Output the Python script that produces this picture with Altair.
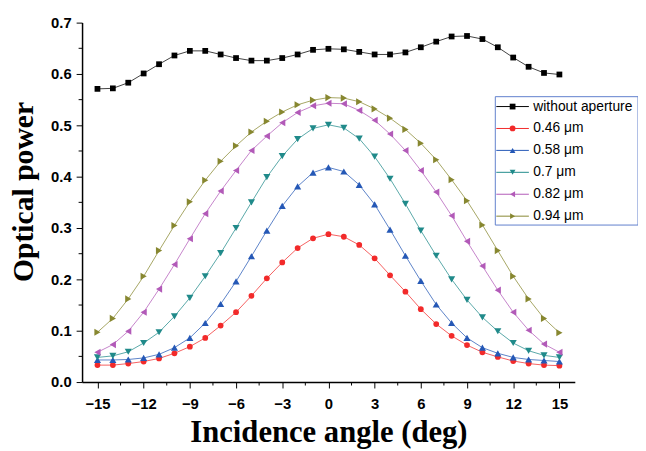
import altair as alt
import pandas as pd

angles = list(range(-15, 16))

series_names = ["without aperture", "0.46 μm", "0.58 μm", "0.7 μm", "0.82 μm", "0.94 μm"]

without_aperture = [0.571, 0.572, 0.583, 0.601, 0.619, 0.636, 0.645, 0.645, 0.638, 0.631,
                    0.626, 0.626, 0.631, 0.638, 0.647, 0.649, 0.648, 0.643, 0.638, 0.638,
                    0.642, 0.652, 0.663, 0.673, 0.674, 0.668, 0.652, 0.632, 0.614, 0.602, 0.599]
ap_046 = [0.033, 0.033, 0.036, 0.040, 0.046, 0.056, 0.069, 0.086, 0.110, 0.136,
          0.168, 0.202, 0.233, 0.261, 0.280, 0.288, 0.283, 0.267, 0.241, 0.208,
          0.176, 0.142, 0.113, 0.090, 0.072, 0.058, 0.049, 0.041, 0.036, 0.033, 0.032]
ap_058 = [0.043, 0.043, 0.044, 0.047, 0.054, 0.067, 0.086, 0.115, 0.152, 0.196,
          0.245, 0.295, 0.343, 0.381, 0.408, 0.418, 0.410, 0.384, 0.346, 0.297,
          0.246, 0.197, 0.151, 0.115, 0.086, 0.067, 0.056, 0.048, 0.044, 0.042, 0.040]
ap_070 = [0.048, 0.051, 0.059, 0.076, 0.097, 0.128, 0.164, 0.206, 0.251, 0.300,
          0.350, 0.399, 0.440, 0.473, 0.494, 0.501, 0.495, 0.474, 0.439, 0.396,
          0.347, 0.295, 0.246, 0.200, 0.160, 0.126, 0.099, 0.076, 0.061, 0.052, 0.048]
ap_082 = [0.058, 0.073, 0.099, 0.136, 0.181, 0.229, 0.279, 0.328, 0.372, 0.412,
          0.451, 0.479, 0.505, 0.525, 0.538, 0.543, 0.542, 0.529, 0.510, 0.483,
          0.451, 0.412, 0.370, 0.324, 0.274, 0.226, 0.179, 0.136, 0.101, 0.074, 0.058]
ap_094 = [0.097, 0.124, 0.162, 0.206, 0.256, 0.305, 0.351, 0.393, 0.430, 0.460,
          0.487, 0.508, 0.526, 0.540, 0.549, 0.554, 0.553, 0.546, 0.532, 0.514,
          0.492, 0.465, 0.433, 0.394, 0.353, 0.306, 0.256, 0.206, 0.162, 0.124, 0.096]

series_values = [without_aperture, ap_046, ap_058, ap_070, ap_082, ap_094]

colors = ["#000000", "#f22a2a", "#2558b6", "#208a8a", "#b25ab8", "#878730"]
shapes = ["square", "circle", "triangle-up", "triangle-down", "triangle-left", "triangle-right"]
sizes = [34, 34, 52, 52, 52, 52]

x_major = [-15, -12, -9, -6, -3, 0, 3, 6, 9, 12, 15]
x_minor = [-13.5, -10.5, -7.5, -4.5, -1.5, 1.5, 4.5, 7.5, 10.5, 13.5]
y_major = [0.0, 0.1, 0.2, 0.3, 0.4, 0.5, 0.6, 0.7]
y_minor = [0.05, 0.15, 0.25, 0.35, 0.45, 0.55, 0.65]

rows = []
for name, vals in zip(series_names, series_values):
    for a, v in zip(angles, vals):
        rows.append({"angle": a, "power": v, "series": name})
df = pd.DataFrame(rows)
legend_df = pd.DataFrame({"series": series_names})
x_minor_df = pd.DataFrame({"angle": x_minor})
y_minor_df = pd.DataFrame({"power": y_minor})

x_axis = alt.Axis(
    values=x_major, format="d",
    grid=False, tickSize=6, tickColor="black", tickWidth=1,
    domainColor="black", domainWidth=1.5,
    labelFont="Liberation Sans", labelFontWeight="bold", labelFontSize=15, labelColor="black",
    labelPadding=9, labelFlush=False, labelOverlap=False,
    title="Incidence angle (deg)",
    titleFont="Liberation Serif", titleFontWeight="bold", titleFontSize=31, titleColor="black",
    titleBaseline="alphabetic", titleY=60,
)
y_axis = alt.Axis(
    values=y_major, format=".1f",
    grid=False, tickSize=6, tickColor="black", tickWidth=1,
    domainColor="black", domainWidth=1.5,
    labelFont="Liberation Sans", labelFontWeight="bold", labelFontSize=15, labelColor="black",
    labelPadding=5, labelFlush=False, labelOverlap=False,
    title="Optical power",
    titleFont="Liberation Serif", titleFontWeight="bold", titleFontSize=30, titleColor="black",
    titleAngle=270, titleAlign="center", titleBaseline="alphabetic", titleX=-50, titleY=171,
)

x_scale = alt.Scale(domain=[-16, 16], nice=False, zero=False)
y_scale = alt.Scale(domain=[0, 0.7], nice=False, zero=False)
x_enc = alt.X("angle:Q", scale=x_scale, axis=x_axis)
y_enc = alt.Y("power:Q", scale=y_scale, axis=y_axis)
color_scale = alt.Scale(domain=series_names, range=colors)

base = alt.Chart(df)

lines = base.mark_line(strokeWidth=1, opacity=0.75).encode(
    x=x_enc, y=y_enc,
    color=alt.Color("series:N", scale=color_scale, legend=None),
    detail="series:N",
)

marker_layers = []
for name, shp, sz in zip(series_names, shapes, sizes):
    marker_layers.append(
        base.transform_filter(alt.datum.series == name)
        .mark_point(shape=shp, filled=True, size=sz, opacity=1)
        .encode(x=x_enc, y=y_enc, color=alt.Color("series:N", scale=color_scale, legend=None))
    )

# minor ticks of the axes
x_minor_ticks = alt.Chart(x_minor_df).mark_rule(color="black", strokeWidth=1).encode(
    x=alt.X("angle:Q", scale=x_scale, axis=x_axis),
    y=alt.value(364), y2=alt.value(367.5),
)
y_minor_ticks = alt.Chart(y_minor_df).mark_rule(color="black", strokeWidth=1).encode(
    y=alt.Y("power:Q", scale=y_scale, axis=y_axis),
    x=alt.value(0), x2=alt.value(-3.5),
)

main = alt.layer(lines, *marker_layers, x_minor_ticks, y_minor_ticks)

# legend box
row_scale = alt.Scale(domain=series_names, range=[85, 196], type="point", padding=0)
leg = alt.Chart(legend_df)
leg_box = leg.mark_rect(fill="white", stroke="#5f7fcc", strokeWidth=1).encode(
    x=alt.value(418.5), x2=alt.value(563), y=alt.value(75), y2=alt.value(205)
).transform_filter(alt.datum.series == series_names[0])
leg_lines = leg.mark_rule(strokeWidth=1).encode(
    x=alt.value(419.5), x2=alt.value(452.5),
    y=alt.Y("series:N", scale=row_scale, axis=None),
    color=alt.Color("series:N", scale=color_scale, legend=None),
)
leg_points = leg.mark_point(filled=True, opacity=1).encode(
    x=alt.value(436),
    y=alt.Y("series:N", scale=row_scale, axis=None),
    color=alt.Color("series:N", scale=color_scale, legend=None),
    shape=alt.Shape("series:N", scale=alt.Scale(domain=series_names, range=shapes), legend=None),
    size=alt.Size("series:N", scale=alt.Scale(domain=series_names, range=sizes), legend=None),
)
leg_text = leg.mark_text(align="left", baseline="middle", font="Liberation Sans",
                         fontSize=14, color="black").encode(
    x=alt.value(457),
    y=alt.Y("series:N", scale=row_scale, axis=None),
    text="series:N",
)
legend = alt.layer(leg_box, leg_lines, leg_points, leg_text)

chart = alt.layer(main, legend).resolve_scale(y="independent").resolve_axis(y="independent").properties(
    width=499, height=364,
    autosize=alt.AutoSizeParams(type="none"),
    padding={"left": 75, "top": 12, "right": 64, "bottom": 67},
    background="white",
).configure_view(stroke=None)

chart.save("out.html", embed_options={"renderer": "svg", "actions": False})
